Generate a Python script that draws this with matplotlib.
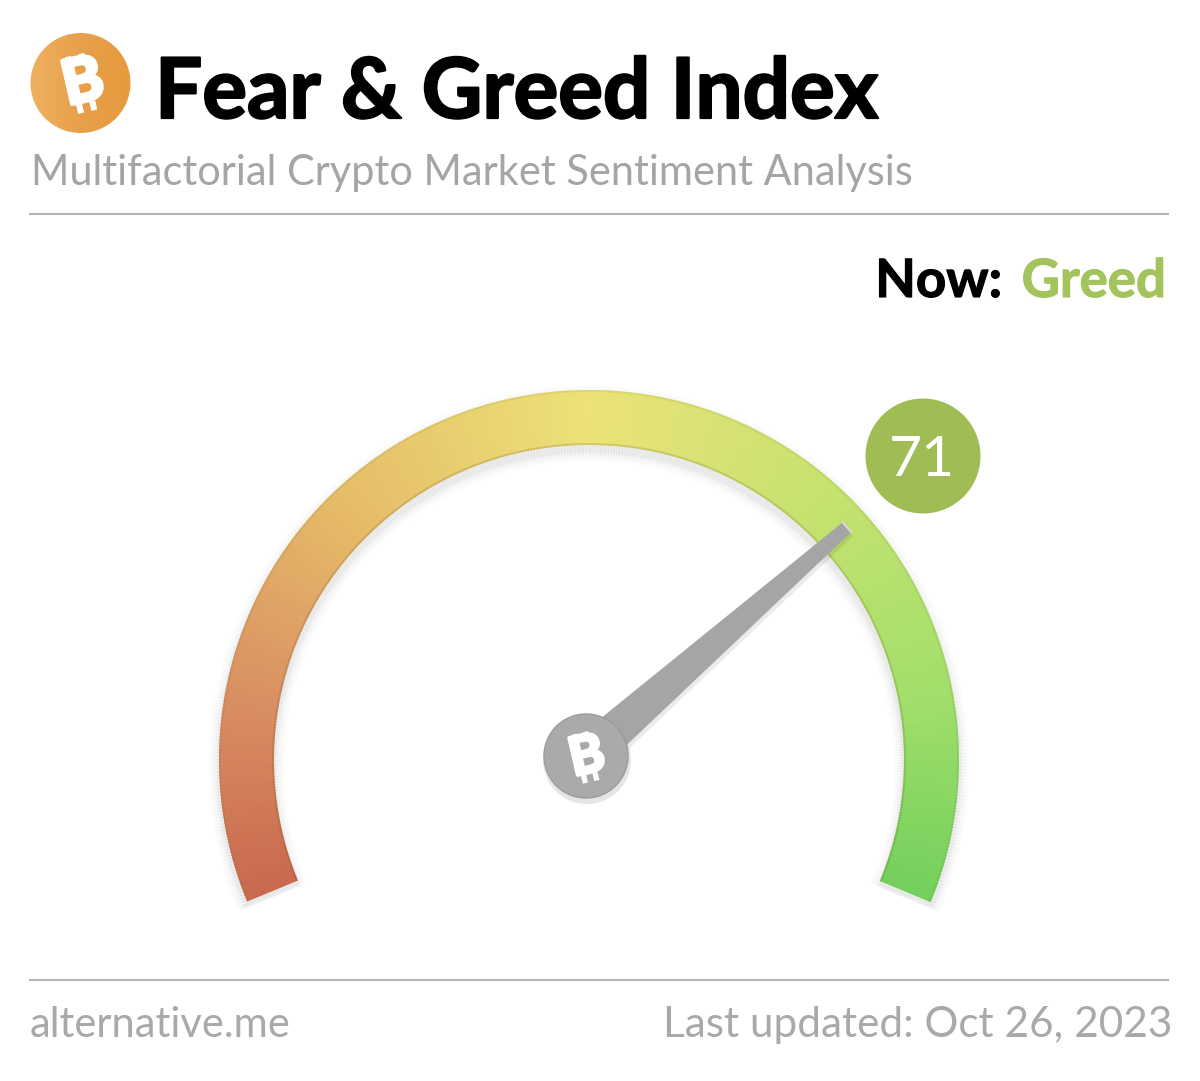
import numpy as np
from matplotlib import pyplot as plt
from matplotlib import patheffects as pe
from matplotlib.collections import PolyCollection
from matplotlib.colors import LinearSegmentedColormap
from matplotlib.patches import Circle, Polygon

plt.rcParams["font.family"] = ["Lato", "DejaVu Sans"]

# values
value = 71
scale_min = 0
scale_max = 100
title = "Fear & Greed Index"
subtitle = "Multifactorial Crypto Market Sentiment Analysis"
now_label = "Now:"
now_state = "Greed"
site = "alternative.me"
updated = "Last updated: Oct 26, 2023"

# gauge colours, from the low end to the high end
stop_pos = [0, 0.14, 0.3, 0.5, 0.68, 0.85, 1]
stop_colors = ["#c9694f", "#d98e62", "#e6bb68", "#ece277", "#c7e26f", "#a3df6b", "#74cf5c"]

W, H = 1200, 1081
CX, CY = 589, 760
R_OUT, R_IN = 370, 315
ANG_START, ANG_END = 202.5, -22.5

fig = plt.figure(figsize=(W / 100, H / 100), dpi=100, facecolor="white")
ax = fig.add_axes([0, 0, 1, 1])


def ring(t0, t1, r0, r1, dx=0, dy=0):
    a = np.radians(np.array([t0, t1, t1, t0]))
    rr = np.array([r1, r1, r0, r0])
    return np.column_stack([CX + dx + rr * np.cos(a), CY + dy - rr * np.sin(a)])


def coin_mark(x, y, size, color, z):
    # bitcoin sign: a tilted B with two ticks top and bottom
    rot = 13
    ax.text(x, y, "B", fontsize=size, fontweight="bold", color=color, rotation=rot,
            rotation_mode="anchor", ha="center", va="center", zorder=z,
            path_effects=[pe.withStroke(linewidth=size * 0.07, foreground=color)])
    h = size * 1.39 * 0.72 / 2  # half cap height, px
    a = np.radians(rot)
    ux, uy = np.cos(a), -np.sin(a)  # along the letter
    vx, vy = np.sin(a), np.cos(a)  # down the letter
    for off in (-0.28, 0.16):
        for s in (-1, 1):
            p0 = (x + ux * off * h * 1.4 + vx * s * h * 0.9, y + uy * off * h * 1.4 + vy * s * h * 0.9)
            p1 = (x + ux * off * h * 1.4 + vx * s * h * 1.32, y + uy * off * h * 1.4 + vy * s * h * 1.32)
            ax.plot([p0[0], p1[0]], [p0[1], p1[1]], color=color, lw=size * 0.1,
                    solid_capstyle="butt", zorder=z)


# header logo with a soft orange gradient
logo = Circle((80.5, 83), 50, fc="none", ec="none", zorder=3)
ax.add_patch(logo)
logo_cmap = LinearSegmentedColormap.from_list("logo", ["#eeb05f", "#e8a04a", "#e69a3c"])
im = ax.imshow(np.linspace(0, 1, 64).reshape(1, -1), cmap=logo_cmap, extent=(30, 131, 134, 33),
               aspect="auto", zorder=3)
im.set_clip_path(logo)
coin_mark(83, 83, 44, "white", 4)

heavy = [pe.withStroke(linewidth=1.6, foreground="black")]
ax.text(155, 118, title, fontsize=60.2, fontweight="bold", color="black", va="baseline", ha="left",
        path_effects=heavy)
ax.text(31, 185, subtitle, fontsize=29.9, color="#a4a6a6", va="baseline", ha="left")
ax.plot([30, 1168], [214, 214], color="#b4b4b4", lw=1.5)

ax.text(1166, 297, now_state, fontsize=38, fontweight="bold", color="#a3c45c", va="baseline", ha="right",
        path_effects=[pe.withStroke(linewidth=0.8, foreground="#a3c45c")])
ax.text(1002, 297, now_label, fontsize=38, fontweight="bold", color="black", va="baseline", ha="right",
        path_effects=[pe.withStroke(linewidth=0.8, foreground="black")])

# gauge
cmap = LinearSegmentedColormap.from_list("gauge", list(zip(stop_pos, stop_colors)))
edges = np.linspace(ANG_START, ANG_END, 451)
frac = np.linspace(0, 1, 450)

# soft shadow below the band
for grow, alpha in [(10, 0.012), (7, 0.016), (4, 0.02), (2, 0.025)]:
    shadow = [ring(edges[i], edges[i + 1] - 0.1, R_IN - grow, R_OUT + grow, dy=6) for i in range(450)]
    ax.add_collection(PolyCollection(shadow, facecolors="black", edgecolors="none", alpha=alpha, zorder=1))

band = [ring(edges[i], edges[i + 1] - 0.1, R_IN, R_OUT) for i in range(450)]
ax.add_collection(PolyCollection(band, facecolors=cmap(frac), edgecolors="none", zorder=2))

# darker edge on the inner rim, light one on the outer rim
inner = [ring(edges[i], edges[i + 1] - 0.1, R_IN, R_IN + 2) for i in range(450)]
ax.add_collection(PolyCollection(inner, facecolors="#6b5a20", edgecolors="none", alpha=0.16, zorder=2.1))
outer = [ring(edges[i], edges[i + 1] - 0.1, R_OUT - 2, R_OUT) for i in range(450)]
ax.add_collection(PolyCollection(outer, facecolors="#55701f", edgecolors="none", alpha=0.08, zorder=2.1))

# needle, pointing at the value
hub_x, hub_y = 586, 756
pct = (value - scale_min) / (scale_max - scale_min)
needle_ang = np.radians(ANG_START + (ANG_END - ANG_START) * pct - 1.5)
ux, uy = np.cos(needle_ang), -np.sin(needle_ang)
nx, ny = -uy, ux
length, base_w, tip_w = 347, 40, 13
needle = np.array([
    [hub_x + nx * base_w / 2, hub_y + ny * base_w / 2],
    [hub_x + ux * length + nx * tip_w / 2, hub_y + uy * length + ny * tip_w / 2],
    [hub_x + ux * length - nx * tip_w / 2, hub_y + uy * length - ny * tip_w / 2],
    [hub_x - nx * base_w / 2, hub_y - ny * base_w / 2],
])
ax.add_patch(Polygon(needle + [2, 4], fc="black", ec="none", alpha=0.08, zorder=4))
ax.add_patch(Polygon(needle, fc="#a5a5a5", ec="none", zorder=5))
ax.plot(needle[1:3, 0], needle[1:3, 1], color="#d8d8d8", lw=1.5, zorder=5.1)

ax.add_patch(Circle((hub_x + 1, hub_y + 4), 44, fc="black", ec="none", alpha=0.10, zorder=5.2))
ax.add_patch(Circle((hub_x, hub_y), 42, fc="#aaaaaa", ec="#9c9c9c", lw=1, zorder=5.3))
coin_mark(hub_x + 1, hub_y + 1, 38, "white", 6)

# value badge
ax.add_patch(Circle((923, 456), 57.5, fc="#a0bc54", ec="none", zorder=5))
ax.text(922, 460, str(value), fontsize=41, color="white", ha="center", va="center", zorder=6)

# footer
ax.plot([30, 1168], [980, 980], color="#b4b4b4", lw=1.5)
ax.text(30, 1037, site, fontsize=30, color="#a9a9a9", va="baseline", ha="left")
ax.text(1172, 1037, updated, fontsize=30.4, color="#a9a9a9", va="baseline", ha="right")

ax.set_xlim(0, W)
ax.set_ylim(H, 0)
ax.axis("off")

fig.savefig("out.png", dpi=100, facecolor="white")
